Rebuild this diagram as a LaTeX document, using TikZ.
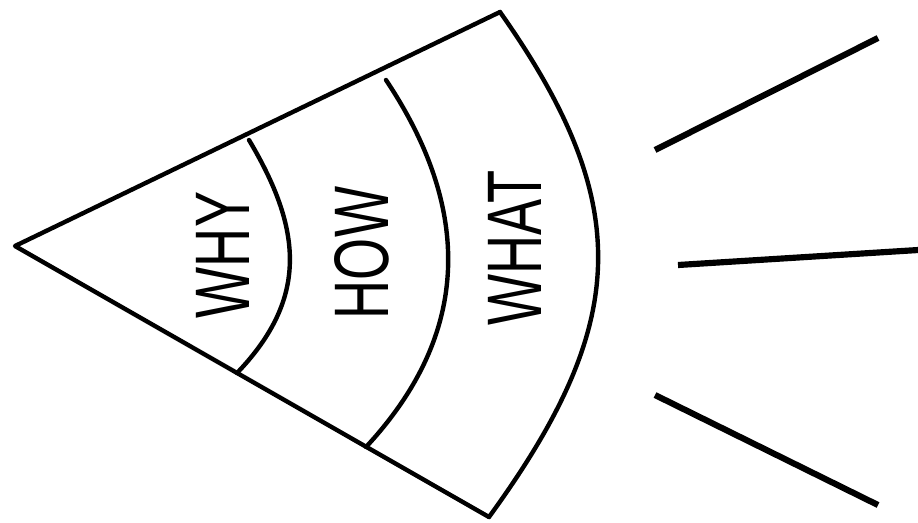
\documentclass[tikz,border=0pt]{standalone}
\usepackage{fontspec}
\setmainfont{Liberation Sans}

\begin{document}
\begin{tikzpicture}[x=0.02cm, y=-0.02cm,
  every node/.style={font=\fontsize{44}{44}\selectfont},
  rim/.style={line width=2.5pt, line join=round, line cap=round},
  ray/.style={line width=3.5pt},
  word/.style={rotate=90, xscale=0.7, inner sep=0pt}]
  \useasboundingbox (0,0) rectangle (918,522);
  \coordinate (apex) at (15,246);
  \coordinate (top) at (500,12);
  \coordinate (bot) at (489,517);
  \coordinate (whyT) at (249,140);
  \coordinate (whyB) at (237,373);
  \coordinate (howT) at (386,80);
  \coordinate (howB) at (366,447);
  \draw[rim] (top) -- (apex) -- (bot);
  % the three layers
  \draw[rim] (whyT) .. controls (302,229) and (309,298) .. (whyB);
  \draw[rim] (howT) .. controls (472,209) and (472,333) .. (howB);
  \draw[rim] (top) .. controls (637,206) and (628,326) .. (bot);
  \node[word] (why) at (223,255) {WHY};
  \node[word] (how) at (362,253) {HOW};
  \node[word] (what) at (515,248) {WHAT};
  % rays
  \coordinate (r1a) at (655,150);
  \coordinate (r1b) at (878,38);
  \coordinate (r2a) at (678,265);
  \coordinate (r2b) at (918,250);
  \coordinate (r3a) at (655,395);
  \coordinate (r3b) at (878,505);
  \foreach \r in {r1,r2,r3} \draw[ray] (\r a) -- (\r b);
\end{tikzpicture}
\end{document}
